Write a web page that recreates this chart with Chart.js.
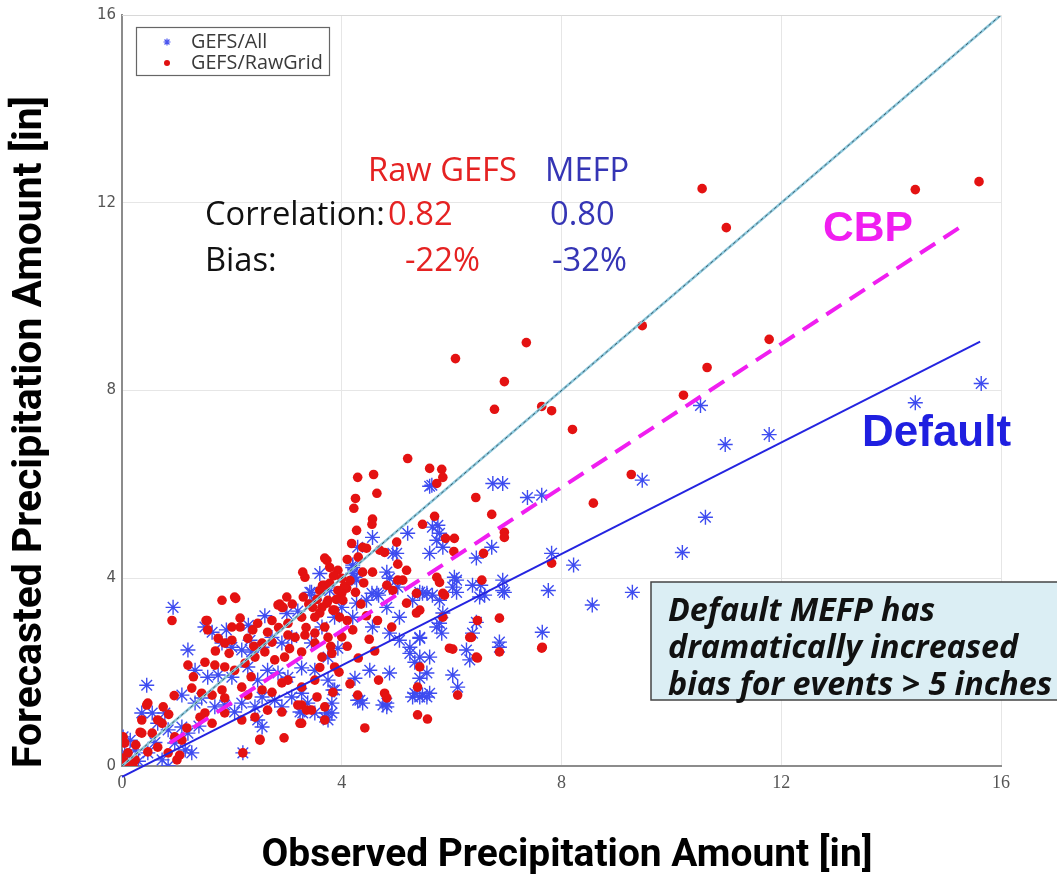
<!DOCTYPE html>
<html>
<head>
<meta charset="utf-8">
<script src="https://cdn.jsdelivr.net/npm/chart.js"></script>
<style>
  body { margin: 0; background: #fff; }
  #wrap { width: 1057px; height: 879px; }
</style>
</head>
<body>
<div id="wrap"><canvas id="chart" width="1057" height="879"></canvas></div>
<script>
// tick values on both axes
const axisTicks = [0, 4, 8, 12, 16];

// GEFS/RawGrid (red dots), [observed, forecast]
const rawGridPoints = [
  [10.56,12.3],[11.0,11.47],[14.44,12.28],[15.6,12.45],[9.47,9.38],[11.78,9.09],[10.65,8.49],[10.22,7.9],
  [7.36,9.02],[8.2,7.17],[6.96,8.19],[7.64,7.66],[7.82,7.57],[6.78,7.6],[9.27,6.21],[8.58,5.6],[7.82,4.32],
  [7.65,2.53],[6.07,8.68],
  [5.2,6.55],[4.29,6.15],[4.58,6.21],[5.6,6.34],[5.82,6.32],[5.84,6.15],[5.73,6.02],[4.64,5.81],[4.25,5.7],
  [4.22,5.49],[4.56,5.26],[4.55,5.15],[4.27,5.02],[6.44,5.72],[6.73,5.36],[5.69,5.32],[5.47,5.15],[6.96,4.98],
  [6.96,4.87],[5.89,4.85],[6.05,4.85],[5.0,4.77],[4.18,4.74],[4.38,4.66],[4.45,4.64],[4.69,4.6],[4.78,4.55],
  [6.04,4.57],[6.58,4.53],[5.02,4.3],[5.18,4.17],[3.93,4.17],[4.38,4.13],[4.56,4.13],[5.73,4.02],[5.78,3.91],
  [5.02,3.96],[5.11,3.96],[4.09,3.79],[4.82,3.85],[4.93,3.74],[5.84,3.68],[6.55,3.96],[3.78,4.23],
  [3.69,4.43],[3.29,4.13],[3.33,4.02],[2.05,3.6],[3.65,3.85],[4.05,3.83],[3.73,4.38],
  [2.87,3.45],[2.93,3.38],[1.82,3.53],[0.91,3.1],[1.53,3.1],[3.47,3.38],[3.6,3.26],[3.73,3.47],[3.84,3.32],
  [3.96,3.17],[5.36,3.68],[5.42,3.32],[6.47,3.1],[6.33,2.74],[6.45,2.32],[6.87,3.15],[7.64,2.51],[5.96,2.51],
  [6.11,1.51],[5.42,2.11],[5.38,1.68],[5.38,1.09],[5.56,1.0],[4.78,1.55],[4.82,1.45],[4.42,0.81],[3.84,1.57],
  [3.55,1.47],[3.27,1.3],[3.36,1.19],[3.24,0.91],[2.51,0.55],[2.2,0.28],[1.2,2.15],[0.47,1.34],
  [6.02,2.49],[6.47,2.3],[6.87,2.43],[4.29,1.51],[4.67,1.83],[6.36,2.74],[5.84,3.17],[5.87,3.64],
  [4.65,3.1],[4.91,2.96],[5.18,3.47],[5.36,3.26],
  [1.55,3.1],[1.56,2.9],[2.0,2.96],[2.15,3.15],[2.15,2.96],[2.38,2.9],[2.47,3.04],[2.65,2.85],[2.73,3.1],
  [3.02,3.04],[3.27,3.17],[3.51,3.17],[3.64,3.38],[3.75,3.53],[3.69,3.85],[4.0,3.68],
  [1.75,2.72],[1.87,2.62],[2.0,2.68],[2.29,2.72],[2.55,2.62],[2.73,2.64],[3.02,2.79],[3.15,2.74],[3.33,2.79],
  [3.51,2.83],[3.69,2.96],[3.75,2.74],[3.51,2.62],
  [1.51,2.21],[1.69,2.15],[1.87,2.11],[2.05,2.04],[2.24,2.19],[2.42,2.32],[2.6,2.43],[2.78,2.26],[2.96,2.32],
  [3.27,2.43],[3.64,2.32],[3.82,2.4],[3.87,2.11],
  [1.27,1.66],[1.45,1.55],[1.64,1.51],[1.82,1.62],[1.87,1.45],[2.18,1.68],[2.29,1.51],[2.55,1.62],[2.73,1.57],
  [2.91,1.77],[3.02,1.83],[3.27,1.68],[3.51,1.83],
  [1.42,1.04],[1.64,0.91],[2.18,0.98],[2.42,1.04],[2.65,1.19],[2.91,1.15],[3.2,1.3],[3.27,0.91],[3.45,1.19],
  [3.69,1.26],[3.69,0.98],
  [0.05,0.49],[0.11,0.28],[0.24,0.13],[0.47,0.3],[0.65,0.4],[0.84,0.28],[1.0,0.13],[1.05,0.23],[0.55,0.7],
  [0.33,0.72],[0.73,0.91],[0.75,1.26],[0.65,0.98],[0.36,0.98],[0.36,0.7],[1.09,0.55],[0.96,0.62],[1.18,0.81],
  [0.05,0.09],[0.0,0.17],[1.51,1.13],[1.87,1.13],[2.84,3.43],[2.91,3.38],[2.07,3.57],[0.45,1.3],[2.51,0.57],
  [0.02,0.62],
  [3.78,3.89],[3.93,3.74],[4.02,3.53],[3.87,3.32],[3.6,3.74],[4.1,3.1],[4.2,2.9],[4.35,3.45],[4.5,2.7],
  [4.1,2.55],[4.3,2.3],[4.6,2.45],[3.95,2.0],[4.15,1.75],[2.95,0.6],[3.05,2.5],[2.35,1.9],[1.95,2.4],
  [0.15,0.05],[0.25,0.45],[0.2,0.02],
  [4.1,4.4],[4.3,4.45],[4.0,4.0],[4.15,3.95],[3.85,4.05],[4.4,3.9],[4.25,3.7],[3.9,3.55],[3.55,3.55],
  [3.4,3.45],[3.3,3.6],[3.1,3.45],[3.0,3.6],[4.45,3.2],[4.0,2.75],[3.8,2.55],[3.6,2.1],[3.35,2.95],
  [2.85,2.95],[2.4,2.55],[1.7,2.45],[1.3,1.9],[0.95,1.5],[0.85,1.1]
];

// GEFS/All (blue asterisks), [observed, forecast]
const allPoints = [
  [15.64,8.15],[14.44,7.74],[11.78,7.06],[10.98,6.85],[10.53,7.68],[9.47,6.09],[10.62,5.3],[10.2,4.55],
  [9.29,3.7],[8.56,3.43],[8.22,4.28],[7.82,4.53],[7.76,3.74],[7.65,2.85],[7.64,5.77],[6.75,6.02],[6.93,6.02],
  [7.38,5.72],[5.6,5.96],[5.2,4.96],[4.56,4.87],[4.29,4.66],[5.75,5.13],[5.78,4.96],[5.84,4.66],[5.73,4.81],
  [5.6,4.53],[5.0,4.53],[6.73,4.66],[6.45,4.43],[4.2,4.23],[4.24,4.02],[6.05,4.02],[6.02,3.81],[6.38,3.85],
  [6.93,3.96],[6.93,3.74],[5.42,3.7],[5.55,3.68],[4.55,3.68],[4.67,3.64],[5.02,3.81],
  [6.51,3.6],[6.87,2.64],[6.87,2.53],[6.45,3.06],[6.38,2.83],[6.27,2.47],[6.33,2.26],[5.78,3.04],[5.82,2.83],
  [5.42,2.72],[5.24,2.4],[5.33,2.21],[6.02,1.94],[6.11,1.68],[5.29,1.47],[5.42,1.47],[5.55,1.47],[5.42,1.87],
  [4.75,1.3],[4.82,1.26],[4.33,1.4],[4.38,1.34],[4.24,1.87],[4.51,2.04],[4.87,1.98],[3.84,1.62],[3.82,1.13],
  [6.09,3.96],[6.09,3.7],[6.53,3.85],[6.6,3.64],[6.96,3.7],
  [5.33,1.55],[5.47,1.51],[5.6,1.55],[4.82,1.34],[4.29,1.4],[3.73,1.13],[3.75,0.98],[3.24,1.15],[3.29,1.13],
  [5.64,5.98],[5.65,5.09],[4.82,4.13],[4.87,4.0],[4.45,3.53],[4.2,4.1],[4.27,3.96],
  [3.42,3.7],[3.78,3.74],[4.2,4.28],[4.64,3.68],[4.87,3.81],[4.93,4.53],[4.27,3.47],[4.2,3.17],[4.56,2.96],
  [4.87,2.83],[5.05,2.68],[5.24,2.53],[5.42,2.74],[4.82,3.38],[5.05,3.17],[5.29,3.53],[5.47,3.68],[5.65,3.64],
  [5.78,3.53],[5.84,3.26],[5.73,2.96],[5.42,2.32],[5.6,2.32],[5.55,1.98],
  [0.93,3.38],[1.2,2.47],[0.45,1.72],[0.02,0.62],[2.2,0.28],
  [1.51,2.96],[1.64,2.85],[1.82,2.62],[2.0,2.53],[2.18,2.47],[2.33,2.68],[2.36,2.43],[2.55,2.53],[2.73,2.74],
  [2.91,2.62],[3.09,2.74],[3.45,3.7],[3.51,3.53],[3.64,2.96],[3.87,3.17],[4.0,3.38],[3.45,2.62],[3.75,2.32],
  [3.93,2.51],
  [1.33,2.04],[1.56,1.89],[1.75,1.94],[2.0,1.89],[2.29,2.11],[2.47,1.83],[2.65,2.04],[2.84,1.98],[3.02,1.89],
  [3.27,2.09],[3.51,2.04],[3.75,1.83],[3.87,1.62],
  [1.09,1.51],[1.33,1.34],[1.45,1.45],[1.69,1.26],[1.87,1.3],[2.05,1.15],[2.18,1.34],[2.42,1.26],[2.55,1.47],
  [2.78,1.4],[2.91,1.26],[3.09,1.47],[3.27,1.55],[3.38,1.34],[3.51,1.13],[3.69,1.04],[3.82,1.34],
  [0.78,1.13],[0.55,1.13],[0.65,0.91],[0.36,1.13],[0.84,0.77],[1.09,0.83],[1.2,0.7],[0.96,0.49],[1.15,0.34],
  [1.27,0.28],[0.47,0.28],[0.73,0.13],[0.24,0.34],[0.05,0.28],[0.84,0.0],[2.55,0.83],[2.47,0.98],
  [0.1,0.05],[0.3,0.1],[0.15,0.55],[0.6,0.5],[1.4,0.85],
  [3.6,4.1],[3.2,3.3],[2.6,3.2],[2.3,3.0],[1.9,2.9],[3.0,3.25]
];

// reference lines (end points)
const oneToOneX = [0, 16];
const oneToOneY = [0, 16];
const cbpX = [0.87, 15.27];
const cbpY = [0.49, 11.49];
const defaultX = [0, 15.62];
const defaultY = [-0.23, 9.04];

function toXY(pairs) {
    return pairs.map(p => ({ x: p[0], y: p[1] }));
}
function zipXY(xs, ys) {
    return xs.map((x, i) => ({ x: x, y: ys[i] }));
}

// shrink/grow a font until the text has the wanted width
function fitFont(ctx, text, width, style, family) {
    ctx.font = style + " 20px " + family;
    const w = ctx.measureText(text).width;
    return style + " " + (20 * width / w).toFixed(1) + "px " + family;
}

const overlay = {
    id: "overlay",
    afterDatasetsDraw(chart) {
        const ctx = chart.ctx;
        const area = chart.chartArea;
        ctx.save();

        // light top frame line
        ctx.strokeStyle = "#d8d8d8";
        ctx.lineWidth = 1;
        ctx.beginPath();
        ctx.moveTo(area.left, area.top + 0.5);
        ctx.lineTo(area.right, area.top + 0.5);
        ctx.stroke();

        // legend box
        ctx.fillStyle = "#fff";
        ctx.fillRect(136, 27, 193, 48);
        ctx.strokeStyle = "#666";
        ctx.lineWidth = 1.2;
        ctx.strokeRect(136.5, 27.5, 193, 48);
        const helpers = Chart.helpers;
        ctx.strokeStyle = "#4a55ee";
        ctx.fillStyle = "#4a55ee";
        if (helpers && helpers.drawPoint) {
            helpers.drawPoint(ctx, { pointStyle: "star", radius: 3.5, borderWidth: 1, rotation: 0 }, 167, 42);
        }
        ctx.fillStyle = "#e01010";
        ctx.beginPath();
        ctx.arc(167, 63, 3, 0, Math.PI * 2);
        ctx.fill();
        ctx.fillStyle = "#3a3a3a";
        ctx.textBaseline = "middle";
        ctx.textAlign = "left";
        ctx.font = fitFont(ctx, "GEFS/RawGrid", 132, "normal", "'Open Sans'");
        ctx.fillText("GEFS/All", 191, 42);
        ctx.fillText("GEFS/RawGrid", 191, 63);

        // statistics text
        ctx.font = fitFont(ctx, "Correlation:", 180, "normal", "'Open Sans'");
        const stats = [
            ["Raw GEFS", 368, 172, "#e52222"],
            ["MEFP", 545, 172, "#3535b5"],
            ["Correlation:", 205, 216, "#111"],
            ["0.82", 388, 216, "#e52222"],
            ["0.80", 550, 216, "#3535b5"],
            ["Bias:", 205, 262, "#111"],
            ["-22%", 405, 262, "#e52222"],
            ["-32%", 552, 262, "#3535b5"],
        ];
        stats.forEach(s => {
            ctx.fillStyle = s[3];
            ctx.fillText(s[0], s[1], s[2]);
        });

        // line labels
        ctx.fillStyle = "#f01ef0";
        ctx.font = fitFont(ctx, "CBP", 90, "bold", "'Liberation Sans'");
        ctx.fillText("CBP", 823, 229);
        ctx.fillStyle = "#1f1fe0";
        ctx.font = fitFont(ctx, "Default", 149, "bold", "'Liberation Sans'");
        ctx.fillText("Default", 862, 434);

        // note box
        ctx.fillStyle = "#dbeef4";
        ctx.fillRect(651, 582, 420, 118);
        ctx.strokeStyle = "#444";
        ctx.lineWidth = 1.5;
        ctx.strokeRect(651, 582, 420, 118);
        ctx.fillStyle = "#111";
        ctx.font = fitFont(ctx, "bias for events > 5 inches", 384, "italic bold", "'Open Sans'");
        ctx.fillText("Default MEFP has", 668, 612);
        ctx.fillText("dramatically increased", 668, 649);
        ctx.fillText("bias for events > 5 inches", 668, 686);

        // axis titles
        ctx.fillStyle = "#000";
        ctx.textAlign = "center";
        ctx.font = fitFont(ctx, "Observed Precipitation Amount [in]", 611, "bold", "Roboto");
        ctx.fillText("Observed Precipitation Amount [in]", 567, 856);
        ctx.translate(31, 432);
        ctx.rotate(-Math.PI / 2);
        ctx.font = fitFont(ctx, "Forecasted Precipitation Amount [in]", 672, "bold", "Roboto");
        ctx.fillText("Forecasted Precipitation Amount [in]", 0, 0);
        ctx.restore();
    }
};

const ctx = document.getElementById("chart").getContext("2d");
new Chart(ctx, {
    type: "scatter",
    data: {
        datasets: [
            {
                label: "1:1 dash",
                data: zipXY(oneToOneX, oneToOneY),
                showLine: true,
                borderColor: "#3f5a66",
                borderWidth: 1,
                borderDash: [3, 3],
                pointRadius: 0,
                order: 0,
            },
            {
                label: "1:1",
                data: zipXY(oneToOneX, oneToOneY),
                showLine: true,
                borderColor: "#8cc8dc",
                borderWidth: 2.5,
                pointRadius: 0,
                order: 1,
            },
            {
                label: "CBP",
                data: zipXY(cbpX, cbpY),
                showLine: true,
                borderColor: "#f01ef0",
                borderWidth: 4,
                borderDash: [18, 10],
                pointRadius: 0,
                order: 0,
            },
            {
                label: "Default",
                data: zipXY(defaultX, defaultY),
                showLine: true,
                borderColor: "#2424e0",
                borderWidth: 2,
                pointRadius: 0,
                clip: 14,
                order: 0,
            },
            {
                label: "GEFS/RawGrid",
                data: toXY(rawGridPoints),
                pointStyle: "circle",
                pointRadius: 4.8,
                backgroundColor: "#e41212",
                borderColor: "#e41212",
                borderWidth: 0,
                order: 2,
            },
            {
                label: "GEFS/All",
                data: toXY(allPoints),
                pointStyle: "star",
                pointRadius: 7.5,
                borderColor: "#3e4cf0",
                backgroundColor: "#3e4cf0",
                borderWidth: 1.4,
                order: 3,
            },
        ],
    },
    options: {
        responsive: false,
        animation: false,
        events: [],
        layout: { padding: { top: 13, right: 56, left: 0, bottom: 0 } },
        plugins: {
            legend: { display: false },
            tooltip: { enabled: false },
        },
        scales: {
            x: {
                type: "linear",
                min: 0,
                max: 16,
                afterBuildTicks: s => { s.ticks = axisTicks.map(v => ({ value: v })); },
                afterFit: s => { s.height = 113; },
                ticks: {
                    color: "#555",
                    font: { family: "'Liberation Serif'", size: 18 },
                    padding: 6,
                },
                grid: { color: "#e6e6e6", tickLength: 0 },
                border: { color: "#8c8c8c", width: 2 },
            },
            y: {
                type: "linear",
                min: 0,
                max: 16,
                afterBuildTicks: s => { s.ticks = axisTicks.map(v => ({ value: v })); },
                afterFit: s => { s.width = 122; },
                ticks: {
                    color: "#555",
                    font: { family: "'DejaVu Sans'", size: 15 },
                    padding: 6,
                },
                grid: { color: "#e6e6e6", tickLength: 0 },
                border: { color: "#8c8c8c", width: 2 },
            },
        },
    },
    plugins: [overlay],
});
</script>
</body>
</html>
